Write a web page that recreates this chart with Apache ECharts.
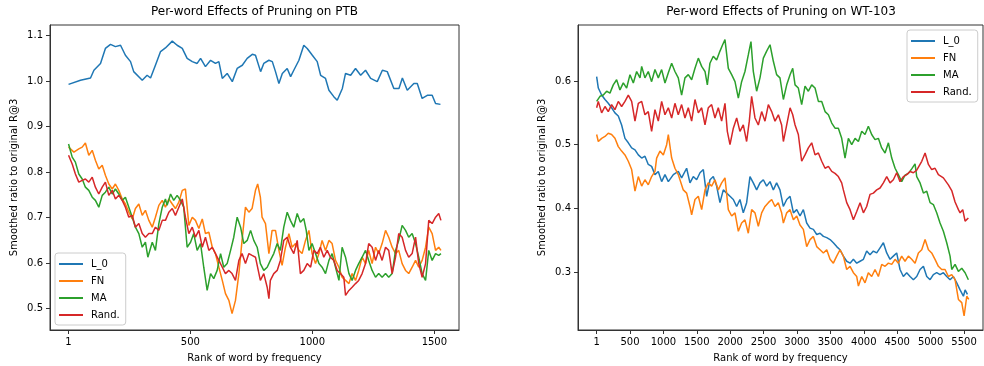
<!DOCTYPE html>
<html><head><meta charset="utf-8">
<script src="https://cdn.jsdelivr.net/npm/echarts@6/dist/echarts.min.js"></script>
<style>html,body{margin:0;padding:0;background:#fff}#c{width:984px;height:366px}</style>
</head><body><div id="c"></div>
<script>
const seriesNames = ['L_0', 'FN', 'MA', 'Rand.'];
const colors = ['#1f77b4', '#ff7f0e', '#2ca02c', '#d62728'];
const titles = ['Per-word Effects of Pruning on PTB', 'Per-word Effects of Pruning on WT-103'];
const xName = 'Rank of word by frequency';
const yName = 'Smoothed ratio to original R@3';
const ptbXTicks = [1, 500, 1000, 1500];
const ptbYTicks = [0.5, 0.6, 0.7, 0.8, 0.9, 1.0, 1.1];
const wtXTicks = [1, 500, 1000, 1500, 2000, 2500, 3000, 3500, 4000, 4500, 5000, 5500];
const wtYTicks = [0.3, 0.4, 0.5, 0.6];

// PTB series: [rank, smoothed ratio]
const ptbL0 = [[1,0.993],[50,1.002],[91,1.007],[105,1.024],[132,1.039],[152,1.072],[173,1.081],[193,1.076],[214,1.079],[234,1.057],[255,1.043],[268,1.021],[303,1.002],[323,1.013],[337,1.007],[357,1.035],[378,1.065],[398,1.073],[426,1.088],[446,1.079],[467,1.072],[487,1.050],[508,1.043],[528,1.039],[542,1.050],[562,1.032],[583,1.046],[603,1.039],[617,1.043],[631,1.006],[651,1.017],[672,0.999],[692,1.028],[713,1.035],[733,1.050],[754,1.059],[767,1.057],[788,1.021],[801,1.039],[822,1.046],[836,1.043],[849,1.021],[863,0.995],[877,1.017],[897,1.028],[911,1.010],[924,1.024],[945,1.046],[965,1.079],[979,1.072],[1000,1.057],[1020,1.043],[1034,1.013],[1054,1.006],[1068,0.980],[1088,0.966],[1102,0.958],[1123,0.984],[1136,1.017],[1157,1.013],[1177,1.028],[1198,1.013],[1218,1.024],[1239,1.006],[1266,0.999],[1287,1.024],[1307,1.021],[1334,0.984],[1355,0.984],[1369,1.007],[1389,0.980],[1416,0.995],[1430,0.995],[1450,0.962],[1471,0.969],[1491,0.969],[1505,0.951],[1525,0.949]];
const ptbFN = [[1,0.855],[23,0.844],[43,0.851],[57,0.855],[70,0.864],[84,0.837],[98,0.848],[111,0.826],[125,0.807],[139,0.815],[152,0.793],[166,0.774],[180,0.763],[193,0.774],[207,0.760],[221,0.741],[234,0.730],[248,0.712],[262,0.697],[275,0.720],[289,0.730],[303,0.705],[316,0.716],[330,0.694],[344,0.679],[357,0.701],[371,0.727],[385,0.738],[398,0.723],[412,0.741],[426,0.730],[439,0.720],[453,0.734],[467,0.760],[480,0.763],[494,0.683],[508,0.701],[521,0.694],[535,0.676],[549,0.697],[562,0.665],[576,0.668],[590,0.635],[603,0.621],[617,0.591],[631,0.562],[644,0.533],[658,0.518],[671,0.489],[685,0.518],[699,0.577],[712,0.650],[726,0.723],[740,0.712],[753,0.720],[767,0.760],[776,0.774],[787,0.745],[794,0.701],[808,0.687],[822,0.621],[828,0.643],[835,0.672],[849,0.672],[863,0.628],[876,0.595],[890,0.635],[904,0.665],[917,0.635],[931,0.643],[945,0.628],[958,0.621],[972,0.650],[986,0.672],[999,0.621],[1013,0.599],[1027,0.621],[1040,0.650],[1054,0.628],[1068,0.650],[1081,0.643],[1095,0.606],[1109,0.591],[1122,0.569],[1136,0.562],[1150,0.555],[1163,0.577],[1177,0.562],[1190,0.584],[1204,0.613],[1218,0.599],[1231,0.628],[1245,0.599],[1259,0.635],[1272,0.621],[1286,0.643],[1300,0.672],[1313,0.657],[1327,0.635],[1341,0.621],[1354,0.628],[1368,0.599],[1382,0.584],[1395,0.577],[1409,0.591],[1423,0.606],[1436,0.591],[1450,0.606],[1464,0.635],[1477,0.679],[1491,0.665],[1505,0.628],[1518,0.635],[1527,0.628]];
const ptbMA = [[1,0.862],[16,0.833],[29,0.822],[43,0.796],[57,0.785],[70,0.767],[84,0.760],[98,0.745],[111,0.738],[125,0.723],[139,0.749],[152,0.756],[166,0.767],[180,0.752],[193,0.763],[207,0.752],[221,0.738],[234,0.745],[248,0.723],[262,0.701],[275,0.679],[289,0.665],[303,0.635],[316,0.646],[326,0.613],[344,0.646],[357,0.628],[371,0.687],[385,0.723],[398,0.741],[405,0.727],[419,0.752],[432,0.738],[446,0.749],[460,0.738],[473,0.723],[487,0.635],[501,0.646],[514,0.665],[528,0.628],[542,0.643],[555,0.591],[569,0.540],[583,0.577],[596,0.566],[610,0.584],[624,0.621],[637,0.591],[651,0.599],[665,0.628],[678,0.657],[692,0.701],[706,0.679],[719,0.643],[733,0.650],[747,0.672],[760,0.650],[774,0.635],[787,0.599],[801,0.584],[815,0.591],[828,0.606],[842,0.621],[856,0.643],[869,0.628],[883,0.679],[897,0.712],[910,0.694],[924,0.679],[938,0.709],[951,0.690],[965,0.698],[975,0.672],[986,0.628],[999,0.643],[1013,0.621],[1027,0.599],[1040,0.591],[1054,0.577],[1068,0.606],[1081,0.621],[1095,0.591],[1109,0.562],[1122,0.635],[1136,0.613],[1150,0.577],[1163,0.562],[1177,0.584],[1190,0.599],[1204,0.613],[1218,0.628],[1231,0.606],[1245,0.584],[1259,0.569],[1272,0.577],[1286,0.569],[1300,0.577],[1313,0.569],[1327,0.577],[1341,0.628],[1354,0.650],[1368,0.683],[1382,0.672],[1395,0.657],[1409,0.665],[1423,0.643],[1436,0.613],[1450,0.577],[1464,0.562],[1477,0.628],[1491,0.606],[1505,0.621],[1518,0.617],[1527,0.621]];
const ptbRand = [[1,0.837],[16,0.818],[29,0.796],[43,0.778],[57,0.782],[70,0.785],[84,0.778],[98,0.789],[111,0.767],[125,0.752],[139,0.767],[152,0.778],[166,0.749],[180,0.760],[193,0.741],[207,0.749],[221,0.738],[234,0.723],[248,0.701],[262,0.705],[275,0.679],[289,0.687],[303,0.665],[316,0.657],[330,0.665],[344,0.665],[357,0.679],[371,0.672],[385,0.694],[398,0.694],[412,0.712],[426,0.720],[439,0.705],[453,0.723],[467,0.741],[480,0.701],[494,0.665],[508,0.679],[521,0.657],[535,0.672],[549,0.635],[562,0.657],[576,0.628],[590,0.635],[603,0.621],[617,0.606],[631,0.591],[644,0.577],[658,0.584],[671,0.577],[685,0.562],[699,0.606],[712,0.621],[726,0.599],[740,0.621],[753,0.617],[767,0.613],[774,0.613],[787,0.562],[801,0.577],[815,0.547],[822,0.522],[828,0.562],[842,0.577],[856,0.584],[869,0.606],[883,0.650],[897,0.657],[910,0.635],[924,0.621],[938,0.650],[951,0.577],[965,0.584],[979,0.599],[993,0.591],[1006,0.628],[1020,0.621],[1033,0.635],[1047,0.613],[1061,0.628],[1074,0.613],[1088,0.606],[1102,0.584],[1115,0.577],[1129,0.569],[1136,0.529],[1150,0.540],[1163,0.547],[1177,0.555],[1190,0.562],[1204,0.577],[1218,0.599],[1231,0.643],[1245,0.635],[1259,0.606],[1272,0.628],[1286,0.606],[1300,0.635],[1313,0.628],[1327,0.577],[1341,0.613],[1354,0.665],[1368,0.657],[1382,0.628],[1395,0.613],[1409,0.621],[1423,0.657],[1436,0.599],[1450,0.569],[1464,0.599],[1477,0.694],[1491,0.687],[1505,0.701],[1518,0.709],[1527,0.694]];

// WT-103 series: [rank, smoothed ratio]
const wtL0 = [[1,0.607],[26,0.589],[76,0.578],[126,0.571],[175,0.565],[225,0.558],[275,0.550],[325,0.545],[375,0.531],[425,0.510],[475,0.503],[525,0.495],[575,0.492],[625,0.484],[675,0.479],[724,0.482],[774,0.469],[824,0.466],[874,0.453],[924,0.458],[974,0.442],[1024,0.453],[1074,0.442],[1149,0.453],[1223,0.458],[1273,0.448],[1348,0.463],[1398,0.440],[1448,0.450],[1498,0.445],[1548,0.456],[1598,0.461],[1648,0.419],[1698,0.445],[1747,0.450],[1797,0.435],[1847,0.409],[1897,0.429],[1947,0.424],[1997,0.419],[2047,0.414],[2097,0.403],[2146,0.414],[2196,0.393],[2246,0.409],[2296,0.450],[2346,0.440],[2396,0.429],[2446,0.440],[2496,0.445],[2546,0.435],[2596,0.442],[2646,0.429],[2695,0.440],[2745,0.429],[2795,0.403],[2846,0.414],[2896,0.419],[2946,0.393],[2996,0.398],[3045,0.388],[3095,0.398],[3145,0.377],[3195,0.369],[3245,0.367],[3295,0.359],[3345,0.361],[3395,0.356],[3445,0.354],[3495,0.351],[3544,0.346],[3594,0.340],[3644,0.335],[3694,0.325],[3744,0.317],[3794,0.314],[3844,0.320],[3894,0.314],[3944,0.317],[3994,0.320],[4043,0.333],[4093,0.327],[4143,0.333],[4193,0.330],[4243,0.338],[4293,0.346],[4343,0.330],[4393,0.320],[4442,0.325],[4492,0.330],[4542,0.304],[4592,0.293],[4642,0.299],[4692,0.293],[4742,0.288],[4792,0.293],[4842,0.304],[4892,0.309],[4942,0.293],[4992,0.288],[5041,0.296],[5091,0.299],[5141,0.296],[5191,0.299],[5241,0.293],[5291,0.288],[5341,0.293],[5391,0.283],[5441,0.272],[5491,0.262],[5516,0.272],[5551,0.265]];
const wtFN = [[1,0.516],[26,0.505],[76,0.510],[126,0.513],[175,0.518],[225,0.516],[275,0.510],[325,0.497],[375,0.490],[425,0.484],[475,0.474],[525,0.461],[575,0.427],[625,0.450],[675,0.435],[724,0.445],[774,0.437],[824,0.450],[874,0.458],[899,0.479],[949,0.490],[999,0.484],[1049,0.500],[1074,0.516],[1124,0.479],[1173,0.463],[1223,0.453],[1248,0.450],[1298,0.429],[1348,0.424],[1398,0.403],[1423,0.390],[1473,0.414],[1523,0.419],[1573,0.398],[1623,0.429],[1672,0.440],[1722,0.435],[1772,0.445],[1822,0.429],[1872,0.440],[1922,0.448],[1972,0.398],[2022,0.388],[2072,0.393],[2122,0.364],[2171,0.377],[2221,0.382],[2271,0.361],[2321,0.398],[2371,0.393],[2421,0.372],[2471,0.393],[2521,0.403],[2571,0.409],[2621,0.414],[2671,0.403],[2720,0.409],[2770,0.393],[2796,0.377],[2846,0.393],[2896,0.398],[2946,0.382],[2996,0.388],[3045,0.374],[3095,0.367],[3145,0.340],[3195,0.351],[3245,0.356],[3295,0.340],[3345,0.335],[3395,0.330],[3445,0.335],[3495,0.320],[3544,0.314],[3594,0.325],[3644,0.335],[3694,0.325],[3744,0.304],[3794,0.309],[3844,0.299],[3894,0.293],[3919,0.278],[3969,0.293],[4018,0.283],[4068,0.299],[4118,0.293],[4168,0.304],[4218,0.293],[4268,0.312],[4318,0.309],[4368,0.314],[4418,0.312],[4468,0.320],[4517,0.314],[4567,0.325],[4617,0.317],[4667,0.325],[4717,0.320],[4767,0.314],[4817,0.330],[4867,0.335],[4917,0.351],[4967,0.335],[5016,0.330],[5066,0.320],[5116,0.309],[5166,0.304],[5216,0.304],[5266,0.293],[5316,0.296],[5366,0.288],[5416,0.257],[5466,0.252],[5501,0.231],[5541,0.262],[5571,0.257]];
const wtMA = [[1,0.568],[51,0.576],[101,0.578],[151,0.584],[200,0.581],[250,0.594],[300,0.602],[350,0.586],[400,0.597],[450,0.589],[500,0.610],[550,0.597],[600,0.615],[650,0.605],[675,0.623],[724,0.605],[774,0.615],[824,0.599],[874,0.618],[924,0.605],[974,0.618],[1024,0.597],[1074,0.613],[1124,0.628],[1173,0.615],[1223,0.605],[1273,0.578],[1323,0.605],[1373,0.610],[1423,0.602],[1473,0.620],[1523,0.636],[1573,0.623],[1623,0.615],[1658,0.594],[1697,0.628],[1747,0.639],[1797,0.633],[1847,0.647],[1887,0.657],[1922,0.665],[1972,0.620],[2022,0.610],[2072,0.599],[2122,0.573],[2171,0.599],[2221,0.615],[2271,0.641],[2311,0.662],[2346,0.615],[2396,0.584],[2446,0.605],[2496,0.636],[2546,0.647],[2596,0.657],[2646,0.631],[2695,0.610],[2745,0.605],[2796,0.571],[2846,0.594],[2896,0.610],[2936,0.620],[2971,0.594],[3020,0.589],[3070,0.563],[3120,0.592],[3170,0.584],[3220,0.594],[3270,0.589],[3320,0.568],[3370,0.568],[3420,0.552],[3470,0.547],[3520,0.534],[3569,0.526],[3619,0.526],[3669,0.510],[3719,0.479],[3769,0.510],[3819,0.500],[3869,0.510],[3919,0.505],[3969,0.521],[4018,0.516],[4068,0.529],[4118,0.516],[4168,0.508],[4218,0.510],[4268,0.495],[4318,0.487],[4368,0.503],[4418,0.479],[4468,0.463],[4517,0.453],[4567,0.442],[4617,0.452],[4667,0.455],[4717,0.462],[4767,0.470],[4792,0.450],[4842,0.440],[4892,0.424],[4942,0.427],[4992,0.409],[5041,0.406],[5091,0.393],[5141,0.377],[5191,0.364],[5241,0.346],[5291,0.325],[5316,0.304],[5366,0.312],[5416,0.301],[5466,0.306],[5516,0.299],[5565,0.288]];
const wtRand = [[1,0.558],[26,0.568],[76,0.550],[126,0.560],[175,0.552],[225,0.563],[275,0.555],[325,0.568],[375,0.560],[425,0.568],[475,0.578],[525,0.568],[575,0.537],[625,0.565],[675,0.568],[724,0.547],[774,0.552],[824,0.521],[874,0.555],[924,0.537],[974,0.568],[1024,0.547],[1074,0.558],[1124,0.542],[1173,0.565],[1223,0.547],[1273,0.563],[1323,0.542],[1373,0.558],[1423,0.537],[1473,0.571],[1523,0.550],[1573,0.558],[1623,0.531],[1672,0.558],[1722,0.563],[1772,0.542],[1822,0.558],[1872,0.537],[1922,0.565],[1957,0.521],[1997,0.500],[2047,0.526],[2097,0.542],[2146,0.521],[2196,0.531],[2246,0.505],[2286,0.537],[2321,0.576],[2371,0.542],[2421,0.531],[2471,0.552],[2521,0.537],[2571,0.563],[2621,0.552],[2671,0.537],[2721,0.547],[2770,0.531],[2796,0.505],[2846,0.531],[2896,0.558],[2936,0.547],[2971,0.531],[3020,0.516],[3070,0.474],[3120,0.484],[3170,0.495],[3220,0.503],[3270,0.484],[3320,0.487],[3370,0.474],[3420,0.463],[3470,0.466],[3520,0.458],[3569,0.455],[3619,0.450],[3669,0.440],[3694,0.429],[3744,0.409],[3794,0.398],[3844,0.382],[3894,0.395],[3944,0.409],[3994,0.393],[4043,0.403],[4093,0.422],[4143,0.424],[4193,0.429],[4243,0.432],[4293,0.440],[4343,0.450],[4393,0.440],[4442,0.445],[4492,0.456],[4542,0.442],[4592,0.450],[4642,0.453],[4692,0.458],[4742,0.456],[4792,0.460],[4817,0.463],[4867,0.474],[4917,0.487],[4967,0.469],[5016,0.461],[5066,0.463],[5116,0.453],[5191,0.448],[5266,0.437],[5316,0.428],[5366,0.410],[5416,0.398],[5441,0.393],[5481,0.398],[5516,0.380],[5565,0.385]];

const FONT = 'DejaVu Sans';
const AX = '#333';

function xAxisCfg(idx, min, max, ticks) {
  return {
    type: 'value', gridIndex: idx, min: min, max: max,
    name: xName, nameLocation: 'middle', nameGap: 23,
    nameTextStyle: { fontSize: 10, color: '#000', fontFamily: FONT },
    axisLine: { show: true, onZero: false, lineStyle: { color: AX, width: 1 } },
    axisTick: { show: true, length: 4, inside: false, customValues: ticks, lineStyle: { color: AX } },
    axisLabel: { customValues: ticks, fontSize: 10, color: '#000', fontFamily: FONT, margin: 7, hideOverlap: false,
      formatter: v => String(v) },
    splitLine: { show: false }
  };
}
function yAxisCfg(idx, min, max, ticks) {
  return {
    type: 'value', gridIndex: idx, min: min, max: max,
    name: yName, nameLocation: 'middle', nameGap: 31,
    nameTextStyle: { fontSize: 10, color: '#000', fontFamily: FONT },
    axisLine: { show: true, onZero: false, lineStyle: { color: AX, width: 1 } },
    axisTick: { show: true, length: 4, inside: false, customValues: ticks, lineStyle: { color: AX } },
    axisLabel: { customValues: ticks, fontSize: 10, color: '#000', fontFamily: FONT, margin: 7,
      formatter: v => Number(v).toFixed(1) },
    splitLine: { show: false }
  };
}
function legendCfg(left, top) {
  return {
    orient: 'vertical', left: left, top: top,
    data: seriesNames.map(n => ({ name: n, icon: 'rect' })),
    itemWidth: 24, itemHeight: 2, itemGap: 5,
    padding: [5, 6, 4, 4],
    backgroundColor: 'rgba(255,255,255,0.8)', borderColor: '#cccccc', borderWidth: 1, borderRadius: 3,
    textStyle: { fontSize: 10, color: '#000', fontFamily: FONT, padding: [0, 0, 0, 3], lineHeight: 12 },
    selectedMode: false
  };
}
function lineSeries(name, i, data, idx) {
  return {
    type: 'line', name: name, data: data, xAxisIndex: idx, yAxisIndex: idx,
    symbol: 'none', showSymbol: false, smooth: false,
    lineStyle: { color: colors[i], width: 1.5 }, itemStyle: { color: colors[i] },
    emphasis: { disabled: true }, animation: false, z: 2 + i
  };
}

const chart = echarts.init(document.getElementById('c'), null, { renderer: 'canvas' });
chart.setOption({
  animation: false,
  backgroundColor: '#fff',
  textStyle: { fontFamily: FONT },
  title: [
    { text: titles[0], left: 254.5, top: 6, textAlign: 'center', padding: 0,
      textStyle: { fontSize: 12, fontWeight: 'normal', color: '#000', fontFamily: FONT } },
    { text: titles[1], left: 781, top: 6, textAlign: 'center', padding: 0,
      textStyle: { fontSize: 12, fontWeight: 'normal', color: '#000', fontFamily: FONT } }
  ],
  grid: [
    { left: 50, top: 25, width: 409, height: 305, show: true, borderColor: AX, borderWidth: 1, backgroundColor: 'transparent', containLabel: false, outerBoundsMode: 'none' },
    { left: 578, top: 25, width: 405, height: 305, show: true, borderColor: AX, borderWidth: 1, backgroundColor: 'transparent', containLabel: false, outerBoundsMode: 'none' }
  ],
  xAxis: [ xAxisCfg(0, -75, 1601, ptbXTicks), xAxisCfg(1, -278, 5784, wtXTicks) ],
  yAxis: [ yAxisCfg(0, 0.453, 1.1235, ptbYTicks), yAxisCfg(1, 0.209, 0.688, wtYTicks) ],
  legend: [ legendCfg(55, 253), legendCfg(907, 30) ],
  series: [
    lineSeries(seriesNames[0], 0, ptbL0, 0),
    lineSeries(seriesNames[1], 1, ptbFN, 0),
    lineSeries(seriesNames[2], 2, ptbMA, 0),
    lineSeries(seriesNames[3], 3, ptbRand, 0),
    lineSeries(seriesNames[0], 0, wtL0, 1),
    lineSeries(seriesNames[1], 1, wtFN, 1),
    lineSeries(seriesNames[2], 2, wtMA, 1),
    lineSeries(seriesNames[3], 3, wtRand, 1)
  ]
});
</script></body></html>
